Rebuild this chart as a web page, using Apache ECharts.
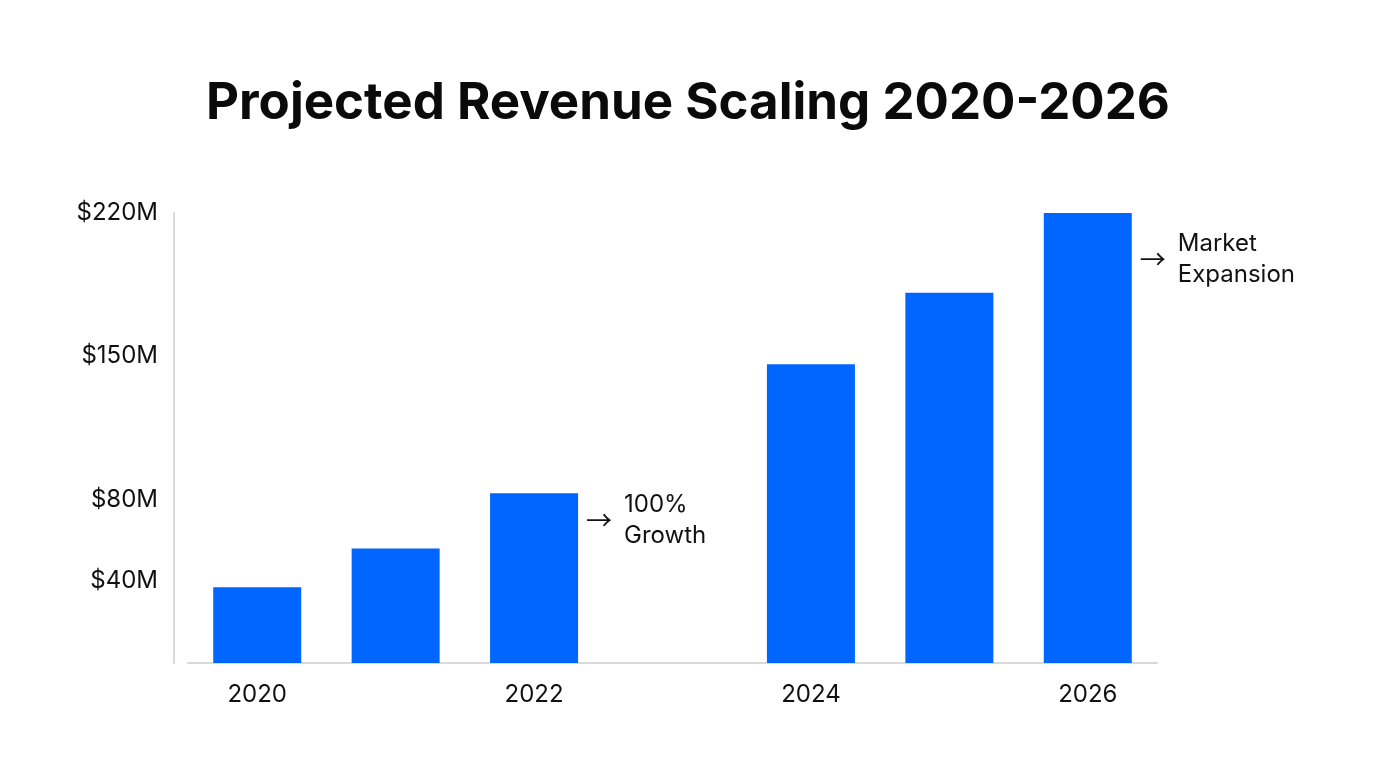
<!DOCTYPE html>
<html>
<head>
<meta charset="utf-8">
<script src="https://cdn.jsdelivr.net/npm/echarts@6/dist/echarts.min.js"></script>
<style>
  html, body { margin: 0; padding: 0; background: #ffffff; }
  #chart { width: 1376px; height: 768px; }
</style>
</head>
<body>
<div id="chart"></div>
<script>
const titleText = 'Projected Revenue Scaling 2020-2026';
const years = ['2020', '2021', '2022', '2023', '2024', '2025', '2026'];
const revenueM = [37, 56, 83, null, 146, 181, 220];
const yTickValues = [40, 80, 150, 220];
const annotations = [
  { year: '2022', value: 83, lines: ['100%', 'Growth'], dy: 27 },
  { year: '2026', value: 220, lines: ['Market', 'Expansion'], dy: 46 }
];

const FONT = 'Inter, "Noto Sans", sans-serif';
const TEXT = '#111111';
const AXIS = '#d9d9d9';
const BAR = '#0066ff';
const BAR_W = 88;

const barData = revenueM.map((v, i) => {
  const ann = annotations.find(a => a.year === years[i]);
  if (!ann) return v;
  return {
    value: v,
    label: {
      show: true,
      position: ['100%', ann.dy],
      offset: [46, 0],
      align: 'left',
      verticalAlign: 'middle',
      formatter: ann.lines.map(l => '{t|' + l + '}').join('\n'),
      rich: { t: { fontSize: 24, lineHeight: 31, color: TEXT, fontFamily: FONT } }
    }
  };
});

const arrowPoints = annotations.map(a => ({
  coord: [a.year, a.value],
  symbolSize: 0,
  label: {
    show: true,
    formatter: '→',
    position: 'inside',
    offset: [BAR_W / 2 + 21, a.dy],
    fontSize: 26,
    color: TEXT,
    fontFamily: '"Noto Sans CJK SC", "DejaVu Sans", sans-serif'
  }
}));

const chart = echarts.init(document.getElementById('chart'), null, { renderer: 'canvas' });
chart.setOption({
  backgroundColor: '#ffffff',
  animation: false,
  title: {
    text: titleText,
    left: 'center',
    top: 73,
    textStyle: { fontSize: 51, fontWeight: 'bold', color: '#0a0a0a', fontFamily: FONT }
  },
  grid: { left: 188, right: 219, top: 213, bottom: 105, containLabel: false },
  xAxis: {
    type: 'category',
    data: years,
    boundaryGap: true,
    axisLine: { show: true, lineStyle: { color: AXIS, width: 2 } },
    axisTick: { show: false },
    axisLabel: { interval: 1, margin: 20, fontSize: 24, color: TEXT, fontFamily: FONT },
    splitLine: { show: false }
  },
  yAxis: {
    type: 'value',
    min: 0,
    max: 220,
    offset: 14,
    axisLine: { show: true, lineStyle: { color: AXIS, width: 2 } },
    axisTick: { show: false },
    splitLine: { show: false },
    axisLabel: {
      customValues: yTickValues,
      margin: 16,
      fontSize: 24,
      color: TEXT,
      fontFamily: FONT,
      formatter: v => '$' + v + 'M'
    }
  },
  series: [{
    type: 'bar',
    data: barData,
    barWidth: BAR_W,
    itemStyle: { color: BAR },
    markPoint: { symbol: 'circle', symbolSize: 0, data: arrowPoints }
  }]
});
</script>
</body>
</html>
